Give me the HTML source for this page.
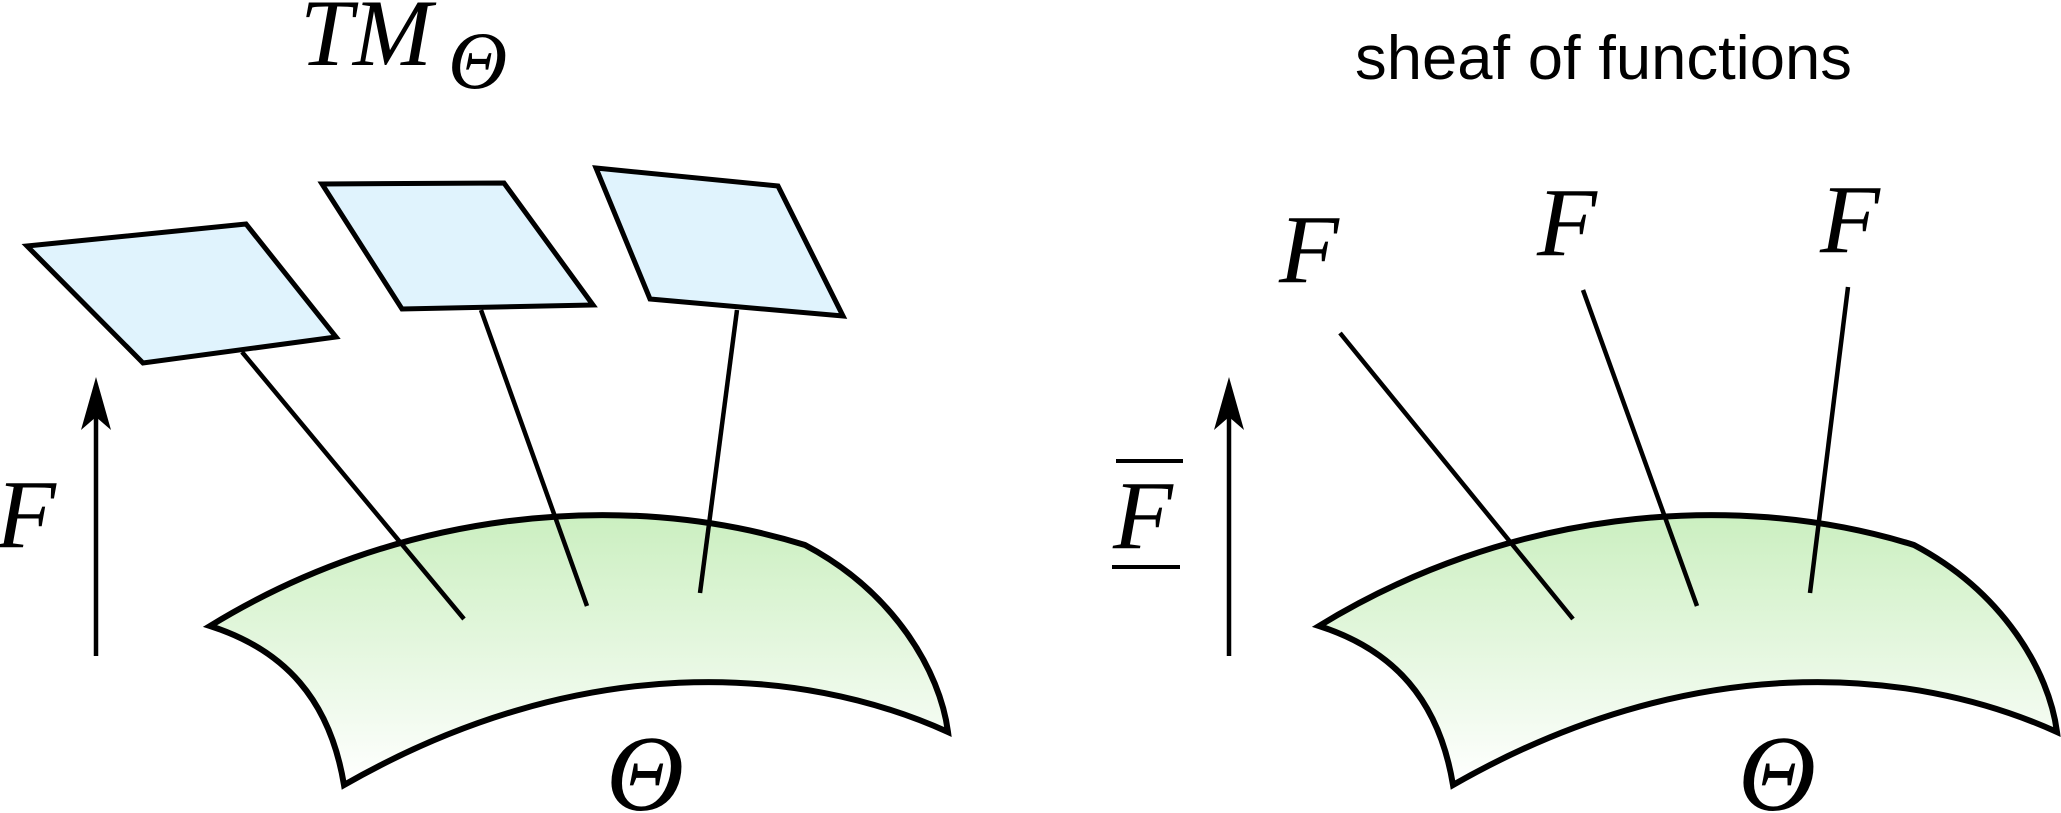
<!DOCTYPE html>
<html><head><meta charset="utf-8"><style>
html,body{margin:0;padding:0;background:#fff;}
svg{display:block;}
.m{font-family:"Liberation Serif",serif;font-style:italic;fill:#000;}
</style></head><body>
<svg width="2061" height="813" viewBox="0 0 2061 813">
<defs>
<linearGradient id="g" x1="0" y1="0" x2="0" y2="1">
<stop offset="0" stop-color="#cbefc0"/><stop offset="1" stop-color="#ffffff"/>
</linearGradient>
</defs>
<g stroke="#000" stroke-width="4.5" fill="none">
<path stroke-width="6" d="M210,626 C394,513 618,487 805,545 C894,592 940,671 948,732 C800,665 580,650 344,785 C330,700 285,650 210,626 Z" fill="url(#g)"/>
<polygon stroke-width="5" points="27,246 246,224 336,337 143,363" fill="#e0f3fd"/>
<polygon stroke-width="5" points="322,184 504,183 593,305 402,309" fill="#e0f3fd"/>
<polygon stroke-width="5" points="596,168 778,186 843,316 650,299" fill="#e0f3fd"/>
<line x1="242" y1="352" x2="464" y2="619"/>
<line x1="481" y1="310" x2="587" y2="606"/>
<line x1="737" y1="310" x2="700" y2="593"/>
<line x1="96" y1="656" x2="96" y2="415"/>
<path d="M96,377 L111,430 L96,417 L81,430 Z" fill="#000" stroke="none"/>
</g>
<text class="m" x="300" y="65" font-size="95">TM</text>
<text class="m" x="448" y="88" font-size="82">Θ</text>
<text class="m" x="-4" y="547" font-size="98">F</text>
<text class="m" x="606" y="810" font-size="108">Θ</text>

<g stroke="#000" stroke-width="4.5" fill="none">
<path stroke-width="6" d="M1319,626 C1503,513 1727,487 1914,545 C2003,592 2049,671 2057,732 C1909,665 1689,650 1453,785 C1439,700 1394,650 1319,626 Z" fill="url(#g)"/>
<line x1="1340" y1="333" x2="1573" y2="619"/>
<line x1="1583" y1="290" x2="1697" y2="606"/>
<line x1="1848" y1="287" x2="1810" y2="593"/>
<line x1="1229" y1="656" x2="1229" y2="415"/>
<path d="M1229,377 L1244,430 L1229,417 L1214,430 Z" fill="#000" stroke="none"/>
<line x1="1116" y1="461" x2="1183" y2="461" stroke-width="4"/>
<line x1="1112" y1="567" x2="1180" y2="567" stroke-width="4"/>
</g>
<text x="1355" y="79" font-size="62" textLength="497" lengthAdjust="spacingAndGlyphs" font-family="Liberation Sans, sans-serif" fill="#000">sheaf of functions</text>
<text class="m" x="1279" y="282" font-size="98">F</text>
<text class="m" x="1537" y="255" font-size="98">F</text>
<text class="m" x="1820" y="252" font-size="98">F</text>
<text class="m" x="1113" y="548" font-size="98">F</text>
<text class="m" x="1738" y="810" font-size="108">Θ</text>
</svg>
</body></html>
